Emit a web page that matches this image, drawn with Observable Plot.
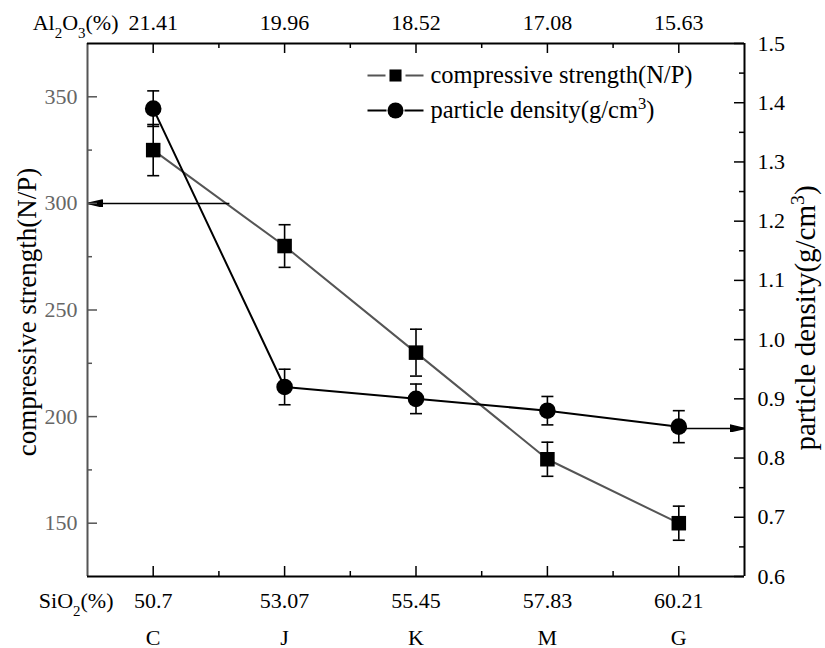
<!DOCTYPE html>
<html><head><meta charset="utf-8">
<script src="https://cdn.jsdelivr.net/npm/d3@7"></script>
<script src="https://cdn.jsdelivr.net/npm/@observablehq/plot@0.6"></script>
<style>
body{margin:0;background:#fff;font-family:"Liberation Serif",serif;}
#chart svg{display:block;}
</style>
</head><body><div id="chart"></div>
<script>
// ---- data ----
const categories = ["C", "J", "K", "M", "G"];
const sio2Labels = ["50.7", "53.07", "55.45", "57.83", "60.21"];
const al2o3Labels = ["21.41", "19.96", "18.52", "17.08", "15.63"];
const strength = [325, 280, 230, 180, 150];
const strengthErr = [12, 10, 11, 8, 8];
const density = [1.39, 0.92, 0.90, 0.88, 0.853];
const densityErr = [0.03, 0.03, 0.025, 0.024, 0.027];
const leftTicks = [150, 200, 250, 300, 350];
const leftMinor = [175, 225, 275, 325];
const rightTicks = [0.6, 0.7, 0.8, 0.9, 1.0, 1.1, 1.2, 1.3, 1.4, 1.5];
const rightMinor = [0.65, 0.75, 0.85, 0.95, 1.05, 1.15, 1.25, 1.35, 1.45];
const xMinor = [0.5, 1.5, 2.5, 3.5];
const leftDomain = [125, 375];
const rightDomain = [0.6, 1.5];
const xDomain = [-0.5, 4.5];
// annotation arrows: strength arrow points to left axis, density arrow points to right axis
const strengthArrow = [{from: 0.58, to: -0.5, value: 300}];
const densityArrow = [{from: 4, to: 4.5, value: 0.85}];

// ---- layout ----
const W = 825, H = 648;
const mL = 87, mR = 81, mT = 43, mB = 72;
const iw = W - mL - mR, ih = H - mT - mB;
const GRAY = "#555555";
const FONT = "'Liberation Serif', 'DejaVu Serif', serif";
const TICK_FS = 22, LEGEND_FS = 24.5, TITLE_FS = 27, RTITLE_FS = 29;

const toLeft = v => leftDomain[0] + (v - rightDomain[0]) * (leftDomain[1] - leftDomain[0]) / (rightDomain[1] - rightDomain[0]);

const rows = categories.map((c, i) => ({
  i, c,
  s: strength[i], sLo: strength[i] - strengthErr[i], sHi: strength[i] + strengthErr[i],
  d: toLeft(density[i]), dLo: toLeft(density[i] - densityErr[i]), dHi: toLeft(density[i] + densityErr[i])
}));
const idx = categories.map((c, i) => i);

// custom symbols
const capSymbol = {draw(ctx) { ctx.moveTo(-6, 0); ctx.lineTo(6, 0); }};
const legendLine = (gap) => ({draw(ctx) { ctx.moveTo(-28, 0); ctx.lineTo(-gap, 0); ctx.moveTo(gap, 0); ctx.lineTo(28, 0); }});

function headMarker(color, context) {
  const ns = "http://www.w3.org/2000/svg";
  const doc = (context && context.document) || document;
  const m = doc.createElementNS(ns, "marker");
  m.setAttribute("viewBox", "0 -4 15 8");
  m.setAttribute("markerWidth", 15);
  m.setAttribute("markerHeight", 8);
  m.setAttribute("markerUnits", "userSpaceOnUse");
  m.setAttribute("refX", 15);
  m.setAttribute("refY", 0);
  m.setAttribute("orient", "auto");
  const p = doc.createElementNS(ns, "path");
  p.setAttribute("d", "M0,-3.5L15,0L0,3.5Z");
  p.setAttribute("fill", color);
  m.appendChild(p);
  return m;
}

const T = {lineAnchor: "middle", fill: "#000"};

function build(marker) {
  return Plot.plot({
    width: W, height: H,
    marginLeft: mL, marginRight: mR, marginTop: mT, marginBottom: mB,
    style: {background: "#fff", overflow: "visible"},
    x: {domain: xDomain, axis: null},
    y: {domain: leftDomain, axis: null},
    marks: [
      // series lines
      Plot.line(rows, {x: "i", y: "s", stroke: GRAY, strokeWidth: 2}),
      Plot.line(rows, {x: "i", y: "d", stroke: "#000", strokeWidth: 2}),
      // annotation arrows
      Plot.link(strengthArrow, {x1: "from", x2: "to", y1: "value", y2: "value", stroke: "#000", strokeWidth: 1.5, markerEnd: marker}),
      Plot.link(densityArrow, {x1: "from", x2: "to", y1: d => toLeft(d.value), y2: d => toLeft(d.value), stroke: "#000", strokeWidth: 1.5, markerEnd: marker}),
      // error bars
      Plot.ruleX(rows, {x: "i", y1: "sLo", y2: "sHi", stroke: "#000", strokeWidth: 1.6}),
      Plot.ruleX(rows, {x: "i", y1: "dLo", y2: "dHi", stroke: "#000", strokeWidth: 1.6}),
      Plot.dot(rows, {x: "i", y: "sLo", symbol: capSymbol, stroke: "#000", strokeWidth: 1.6}),
      Plot.dot(rows, {x: "i", y: "sHi", symbol: capSymbol, stroke: "#000", strokeWidth: 1.6}),
      Plot.dot(rows, {x: "i", y: "dLo", symbol: capSymbol, stroke: "#000", strokeWidth: 1.6}),
      Plot.dot(rows, {x: "i", y: "dHi", symbol: capSymbol, stroke: "#000", strokeWidth: 1.6}),
      // markers
      Plot.dot(rows, {x: "i", y: "s", symbol: "square", r: 8.2, fill: "#000", stroke: "none"}),
      Plot.dot(rows, {x: "i", y: "d", symbol: "circle", r: 8.3, fill: "#000", stroke: "none"}),
      // frame
      Plot.ruleX([xDomain[0]], {stroke: GRAY, strokeWidth: 2}),
      Plot.ruleX([xDomain[1]], {stroke: "#000", strokeWidth: 2}),
      Plot.ruleY([leftDomain[0]], {stroke: "#000", strokeWidth: 2}),
      Plot.ruleY([leftDomain[1]], {stroke: "#000", strokeWidth: 2}),
      // inward ticks
      Plot.tickY(leftTicks, {y: d => d, insetRight: iw - 10, stroke: GRAY, strokeWidth: 1.5}),
      Plot.tickY(leftMinor, {y: d => d, insetRight: iw - 5, stroke: GRAY, strokeWidth: 1.5}),
      Plot.tickY(rightTicks, {y: d => toLeft(d), insetLeft: iw - 10, stroke: "#000", strokeWidth: 1.5}),
      Plot.tickY(rightMinor, {y: d => toLeft(d), insetLeft: iw - 5, stroke: "#000", strokeWidth: 1.5}),
      Plot.tickX(idx, {x: d => d, insetBottom: ih - 10, stroke: "#000", strokeWidth: 1.5}),
      Plot.tickX(xMinor, {x: d => d, insetBottom: ih - 5, stroke: "#000", strokeWidth: 1.5}),
      Plot.tickX(idx, {x: d => d, insetTop: ih - 10, stroke: "#000", strokeWidth: 1.5}),
      Plot.tickX(xMinor, {x: d => d, insetTop: ih - 5, stroke: "#000", strokeWidth: 1.5}),
      // tick labels
      Plot.text(leftTicks, {...T, y: d => d, frameAnchor: "left", dx: -10, textAnchor: "end", text: d => String(d), fill: "#666", fontSize: TICK_FS}),
      Plot.text(rightTicks, {...T, y: d => toLeft(d), frameAnchor: "right", dx: 13, textAnchor: "start", text: d => d.toFixed(1), fontSize: TICK_FS}),
      Plot.text(al2o3Labels, {...T, x: (d, i) => i, frameAnchor: "top", dy: -21, textAnchor: "middle", text: d => d, fontSize: TICK_FS}),
      Plot.text(sio2Labels, {...T, x: (d, i) => i, frameAnchor: "bottom", dy: 24, textAnchor: "middle", text: d => d, fontSize: TICK_FS}),
      Plot.text(categories, {...T, x: (d, i) => i, frameAnchor: "bottom", dy: 61, textAnchor: "middle", text: d => d, fontSize: TICK_FS}),
      Plot.text(["Al2O3(%)"], {...T, frameAnchor: "top-left", dx: 31, dy: -21, textAnchor: "end", fontSize: TICK_FS}),
      Plot.text(["SiO2(%)"], {...T, frameAnchor: "bottom-left", dx: 26, dy: 24, textAnchor: "end", fontSize: TICK_FS}),
      // axis titles
      Plot.text(["compressive strength(N/P)"], {...T, frameAnchor: "left", dx: -60, dy: 2, rotate: -90, textAnchor: "middle", fontSize: TITLE_FS}),
      Plot.text(["particle density(g/cm3)"], {...T, frameAnchor: "right", dx: 61, dy: 8, rotate: -90, textAnchor: "middle", fontSize: RTITLE_FS}),
      // legend
      Plot.dot([0], {frameAnchor: "top-left", dx: 395 - mL, dy: 75 - mT, symbol: legendLine(10), stroke: GRAY, strokeWidth: 2}),
      Plot.dot([0], {frameAnchor: "top-left", dx: 395 - mL, dy: 75 - mT, symbol: "square", r: 6.8, fill: "#000", stroke: "none"}),
      Plot.dot([0], {frameAnchor: "top-left", dx: 395 - mL, dy: 110 - mT, symbol: legendLine(9), stroke: "#000", strokeWidth: 2}),
      Plot.dot([0], {frameAnchor: "top-left", dx: 395 - mL, dy: 110 - mT, symbol: "circle", r: 8, fill: "#000", stroke: "none"}),
      Plot.text(["compressive strength(N/P)"], {...T, frameAnchor: "top-left", dx: 430 - mL, dy: 75 - mT, textAnchor: "start", fontSize: LEGEND_FS}),
      Plot.text(["particle density(g/cm3)"], {...T, frameAnchor: "top-left", dx: 430 - mL, dy: 110 - mT, textAnchor: "start", fontSize: LEGEND_FS})
    ]
  });
}

let chart;
try { chart = build(headMarker); } catch (e) { chart = build("arrow"); }
document.getElementById("chart").appendChild(chart);

// font + sub/superscripts
const richMap = {
  "Al2O3(%)": [["Al"], ["2", "sub"], ["O"], ["3", "sub"], ["(%)"]],
  "SiO2(%)": [["SiO"], ["2", "sub"], ["(%)"]],
  "particle density(g/cm3)": [["particle density(g/cm"], ["3", "super"], [")"]]
};
const ns = "http://www.w3.org/2000/svg";
chart.style.fontFamily = FONT;
chart.querySelectorAll("text").forEach(t => {
  t.setAttribute("font-family", FONT);
  const parts = richMap[t.textContent];
  if (!parts) return;
  t.textContent = "";
  for (const [s, shift] of parts) {
    const ts = document.createElementNS(ns, "tspan");
    ts.textContent = s;
    if (shift) { ts.setAttribute("baseline-shift", shift); ts.setAttribute("font-size", "68%"); }
    t.appendChild(ts);
  }
});
</script>
</body></html>
